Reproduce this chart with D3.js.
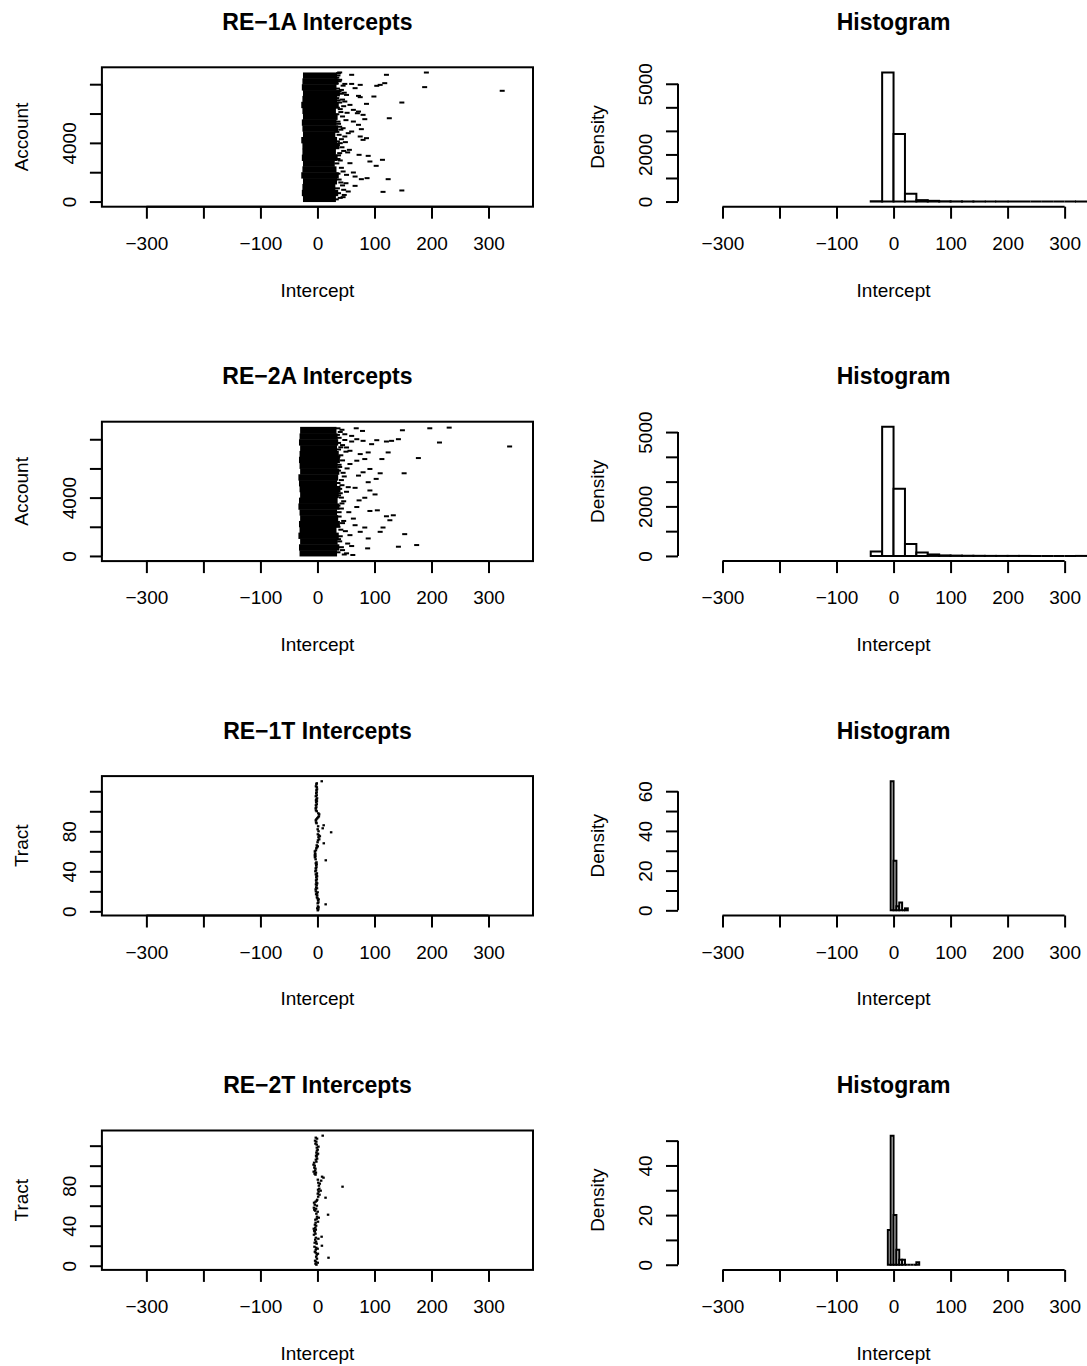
<!DOCTYPE html>
<html>
<head>
<meta charset="utf-8">
<script src="https://cdn.jsdelivr.net/npm/d3@7"></script>
<style>
  body { margin: 0; background: #fff; }
  text { font-family: "Liberation Sans", Arial, Helvetica, sans-serif; font-size: 19px; fill: #000; }
  .main { font-size: 23px; font-weight: bold; }
</style>
</head>
<body>
<div id="chart"></div>
<script>
// ---------------- data ----------------
const panelTitles = ["RE−1A Intercepts", "RE−2A Intercepts", "RE−1T Intercepts", "RE−2T Intercepts"];
const scatterYTitles = ["Account", "Account", "Tract", "Tract"];
const xLimits = [-350, 350];
const xTickValues = [-300, -200, -100, 0, 100, 200, 300];
const xTickLabels = ["−300", "", "−100", "0", "100", "200", "300"];

// scatter y ticks
const accountTicks = [0, 2000, 4000, 6000, 8000];
const accountTickLabels = ["0", "", "4000", "", ""];
const tractTicks = [0, 20, 40, 60, 80, 100, 120];
const tractTickLabels = ["0", "", "40", "", "80", "", ""];

// RE-1A: dense core per band of accounts (left / right edge of the black mass)
const re1aCount = 8800;
const re1aBandEdges = [0, 400, 800, 1200, 1600, 2000, 2400, 2800, 3200, 3600, 4000, 4400, 4800, 5200, 5600, 6000, 6400, 6800, 7200, 7600, 8000, 8400, 8800];
const re1aBandLeft = [-21, -23, -22, -21, -24, -22, -21, -23, -22, -22, -24, -21, -22, -23, -21, -22, -24, -22, -21, -23, -22, -21];
const re1aBandRight = [28, 32, 27, 30, 33, 29, 26, 31, 28, 34, 30, 27, 32, 29, 31, 28, 33, 30, 35, 29, 32, 30];
// RE-1A: scattered intercepts outside the core [intercept, account]
const re1aOutliers = [
  [37, 8750], [60, 8640], [121, 8640], [191, 8795], [188, 7800], [324, 7550], [148, 6750], [126, 5680],
  [99, 7160], [86, 6660], [118, 8070], [110, 7955], [104, 7890], [75, 7955], [66, 7730], [60, 8020],
  [48, 8020], [42, 7610], [51, 7270], [72, 7205], [70, 6020], [80, 5910], [83, 5615], [63, 5455],
  [72, 5230], [60, 4775], [75, 4435], [80, 4205], [86, 4320], [77, 4935], [56, 3525], [73, 3185],
  [89, 3115], [92, 2730], [114, 2845], [103, 2435], [63, 1980], [66, 1705], [77, 1525], [87, 1595],
  [124, 1525], [66, 1070], [115, 660], [148, 755], [45, 300], [54, 685], [37, 570], [51, 1820],
  [57, 2615], [40, 3980], [48, 4435], [54, 4660], [63, 6250], [72, 6135], [57, 6590], [48, 6820],
  [75, 7115], [38, 8200], [42, 7350], [36, 6900], [40, 6300], [44, 5800], [37, 5300], [41, 4900],
  [35, 4100], [43, 3700], [39, 3300], [36, 2900], [42, 2300], [38, 1500], [44, 1100], [40, 250], [36, 8600],
  [34, 8450], [39, 8300], [33, 8050], [45, 7900], [35, 7700], [38, 7500], [47, 7420], [34, 7050],
  [39, 6750], [46, 6500], [35, 6400], [41, 6100], [34, 5950], [50, 5550], [36, 5450], [39, 5100],
  [45, 5000], [34, 4750], [38, 4550], [42, 4250], [35, 3850], [46, 3450], [37, 3150], [40, 2800],
  [34, 2600], [45, 2050], [36, 1900], [41, 1300], [35, 900], [47, 450], [33, 150], [39, 8800],
  [44, 6950], [52, 6050], [49, 4050], [53, 3350], [50, 1250], [46, 800]
];

// RE-2A
const re2aCount = 8850;
const re2aBandEdges = [0, 400, 800, 1200, 1600, 2000, 2400, 2800, 3200, 3600, 4000, 4400, 4800, 5200, 5600, 6000, 6400, 6800, 7200, 7600, 8000, 8400, 8850];
const re2aBandLeft = [-27, -28, -26, -29, -27, -28, -26, -27, -29, -28, -26, -27, -28, -29, -26, -27, -28, -27, -26, -28, -27, -26];
const re2aBandRight = [30, 34, 31, 33, 29, 35, 32, 30, 34, 31, 33, 36, 30, 32, 34, 31, 35, 33, 30, 32, 31, 29];
const re2aOutliers = [
  [68, 8753], [79, 8571], [149, 8617], [197, 8753], [231, 8798], [214, 7777], [337, 7505], [177, 6711],
  [152, 5668], [124, 7097], [113, 6643], [142, 8004], [130, 7891], [121, 7845], [104, 7936], [95, 7664],
  [80, 7891], [69, 8004], [60, 7845], [89, 7097], [75, 6984], [83, 6643], [92, 5963], [110, 5668],
  [103, 5283], [89, 5056], [80, 5736], [72, 5509], [92, 4489], [101, 4217], [83, 3990], [73, 3809],
  [105, 3128], [121, 2720], [133, 2788], [127, 2448], [92, 3083], [69, 3355], [83, 1949], [115, 1949],
  [75, 1654], [110, 1654], [89, 1200], [153, 1495], [142, 633], [174, 747], [88, 520], [60, 679],
  [62, 66], [51, 179], [66, 2108], [57, 1427], [63, 2561], [54, 4716], [66, 4670], [57, 6303],
  [69, 6530], [51, 7437], [57, 7210], [48, 8344], [60, 8231], [40, 8500], [38, 8100], [44, 7600],
  [41, 6900], [39, 6100], [45, 5700], [42, 5200], [40, 4300], [43, 3600], [38, 3000], [46, 2400],
  [41, 1800], [39, 1000], [44, 400], [37, 7300], [42, 4000],
  [36, 8750], [43, 8650], [35, 8300], [48, 7950], [37, 7750], [41, 7450], [50, 7150], [36, 6800],
  [44, 6550], [38, 6250], [52, 6000], [37, 5850], [47, 5450], [36, 5000], [43, 4850], [39, 4600],
  [51, 4400], [37, 4150], [46, 3750], [36, 3450], [42, 3250], [55, 3000], [38, 2700], [44, 2250],
  [36, 2000], [49, 1700], [40, 1350], [37, 1150], [53, 850], [42, 600], [36, 250], [47, 100]
];

// RE-1T / RE-2T: tract ids present (ids run 1 .. 130, not all used)
const tractIds = [
  1, 2, 3, 4, 5, 7, 8, 9, 11, 12, 13, 14, 16, 17, 18, 19, 20, 22, 23, 24,
  26, 27, 28, 29, 31, 32, 34, 35, 36, 37, 38, 40, 41, 43, 44, 46, 47, 48, 49, 51,
  52, 54, 55, 56, 57, 58, 60, 61, 63, 64, 65, 66, 68, 69, 71, 72, 74, 75, 76, 77,
  79, 80, 82, 83, 85, 86, 88, 89, 91, 92, 93, 94, 95, 97, 98, 100, 101, 103, 104, 106,
  107, 109, 110, 111, 112, 113, 115, 116, 118, 119, 121, 122, 124, 125, 127, 128, 130
];
const tractIdMax = 130;
// intercept by tract id position (1 .. 130)
const re1tByTract = [
  0.6, 1.4, -0.3, 1.9, 0.9, 2.3, 14.4, 0.4, 1.6, -0.6,
  1.1, 2.0, 0.2, -0.9, -1.8, -0.4, -2.3, -1.2, 0.3, -2.7,
  -1.6, -3.1, -0.8, -2.2, -3.5, -1.4, -2.6, -0.5, -1.9, -3.0,
  -2.4, -1.1, -3.3, -2.0, -0.7, -1.5, -2.8, -1.0, -2.1, -3.6,
  -2.5, -1.3, -3.0, -1.8, -0.6, -2.2, -1.4, -2.9, -1.7, -2.4,
  14.6, -3.2, -3.9, -4.4, -3.6, -4.6, -3.8, -4.2, -3.1, -4.5,
  -2.7, -3.4, -1.9, -0.8, 0.5, -1.2, 1.3, 11.1, 0.2, 2.4,
  1.0, 3.1, -0.3, 1.8, 4.2, 2.6, 0.7, 3.5, 24.0, 1.9,
  2.9, 0.4, 9.2, 3.8, 1.2, 10.9, -0.5, -1.6, -2.4, -1.1,
  -2.9, -1.8, -0.4, 1.2, 2.5, 0.8, 3.0, 1.5, -0.2, -1.3,
  -2.6, -1.5, -3.1, -2.0, -0.9, -2.7, -1.2, -3.4, -2.2, -1.0,
  -2.5, -1.6, -0.7, -1.9, -2.8, -1.3, -0.5, -2.1, -1.4, -2.9,
  -1.7, -0.8, -2.3, -1.1, -2.6, -0.6, -1.8, -1.2, -0.9, 7.5
];
const re2tByTract = [
  -1.8, -3.4, 0.5, -2.6, -4.1, 1.2, -0.9, 19.4, -2.2, -3.7,
  -1.1, 0.8, -2.9, -4.5, -1.6, -3.0, 0.3, -2.1, -5.2, 7.8,
  -3.3, -1.4, -4.8, -2.5, -0.6, -3.9, 1.6, -2.8, 7.3, -4.3,
  -6.1, -3.5, -7.0, -4.6, -5.7, -2.9, -6.4, -3.8, -5.1, -2.3,
  -4.4, -1.5, -3.2, 0.9, -2.0, -3.6, -1.2, 2.2, -0.7, -2.6,
  18.6, -1.9, -3.1, 0.4, -4.0, -5.5, -2.4, -6.2, -3.5, -1.0,
  -4.7, -2.2, -5.9, -3.3, -1.3, -0.4, 2.8, 14.2, 1.3, -0.9,
  3.6, 0.6, -1.7, 2.0, 5.6, 1.1, 3.2, 0.2, 44.0, 2.5,
  -0.3, 4.1, 1.5, -1.4, 6.5, 0.7, -2.3, 10.6, 8.1, -0.8,
  -3.4, -5.0, -2.7, -6.6, -4.1, -7.3, -3.6, -5.4, -2.5, -4.8,
  -6.9, -3.0, -5.8, -1.9, -4.3, -2.8, -0.6, -3.9, -1.5, -2.4,
  -0.5, 1.0, -1.8, -3.2, -0.9, 0.4, -2.1, -1.1, 1.7, -2.7,
  -1.3, -3.5, -0.2, -2.0, -4.2, -1.6, -0.7, -2.9, -1.2, 9.2
];

// histograms: bin breaks and counts
const hist1Breaks = [-40, -20, 0, 20, 40, 60, 80, 100, 120, 140, 160, 180, 200, 220, 240, 260, 280, 300, 320, 340];
const hist1Counts = [12, 5480, 2863, 330, 60, 30, 10, 6, 3, 2, 0, 2, 0, 0, 0, 0, 0, 0, 1];
const hist2Breaks = [-40, -20, 0, 20, 40, 60, 80, 100, 120, 140, 160, 180, 200, 220, 240, 260, 280, 300, 320, 340];
const hist2Counts = [175, 5210, 2714, 484, 140, 60, 22, 14, 8, 5, 2, 1, 1, 1, 0, 0, 0, 0, 1];
const hist3Breaks = [-5, 0, 5, 10, 15, 20, 25];
const hist3Counts = [65, 25, 2, 4, 0, 1];
const hist4Breaks = [-10, -5, 0, 5, 10, 15, 20, 25, 30, 35, 40, 45];
const hist4Counts = [14, 52, 20, 6, 2, 2, 0, 0, 0, 0, 1];

const histTicksBig = [0, 1000, 2000, 3000, 4000, 5000];
const histTickLabelsBig = ["0", "", "2000", "", "", "5000"];
const hist3Ticks = [0, 10, 20, 30, 40, 50, 60];
const hist3TickLabels = ["0", "", "20", "", "40", "", "60"];
const hist4Ticks = [0, 10, 20, 30, 40, 50];
const hist4TickLabels = ["0", "", "20", "", "40", ""];

// ---------------- layout ----------------
const W = 1087, H = 1366;
const rowStep = 354.4;
const plotTop = 67.3, plotBottom = 206.7;
const leftX0 = 101.9, leftX1 = 533.0;
const rightX0 = 678.0, rightX1 = 1109.1;

const svg = d3.select("#chart").append("svg")
  .attr("width", W)
  .attr("height", H)
  .style("display", "block")
  .style("background", "#fff");

// R style 4% range extension
function extend(lo, hi) {
  const d = (hi - lo) * 0.04;
  return [lo - d, hi + d];
}

const xDomain = extend(xLimits[0], xLimits[1]);

function drawXAxis(g, x) {
  g.append("g")
    .attr("transform", `translate(0,${plotBottom})`)
    .call(d3.axisBottom(x).tickValues(xTickValues).tickFormat((d, i) => xTickLabels[i]).tickSize(12).tickSizeOuter(0))
    .call(a => a.select(".domain").remove())
    .call(a => a.selectAll("line").attr("stroke-width", 2))
    .call(a => a.selectAll("text").attr("y", 43.3).attr("dy", null));
  // axis line spans first to last tick
  g.append("line")
    .attr("x1", x(xTickValues[0])).attr("x2", x(xTickValues[xTickValues.length - 1]))
    .attr("y1", plotBottom).attr("y2", plotBottom)
    .attr("stroke", "#000").attr("stroke-width", 2);
  g.append("text")
    .attr("x", x(0)).attr("y", 296.5)
    .attr("text-anchor", "middle")
    .text("Intercept");
}

function drawYAxis(g, y, xPos, ticks, labels, title) {
  g.append("g")
    .attr("transform", `translate(${xPos},0)`)
    .call(d3.axisLeft(y).tickValues(ticks).tickFormat((d, i) => labels[i]).tickSize(12).tickSizeOuter(0))
    .call(a => a.select(".domain").remove())
    .call(a => a.selectAll("line").attr("stroke-width", 2))
    .call(a => a.selectAll("text")
      .attr("x", null).attr("dy", null)
      .attr("text-anchor", "middle")
      .attr("transform", "translate(-26.4,0) rotate(-90)"));
  g.append("line")
    .attr("x1", xPos).attr("x2", xPos)
    .attr("y1", y(ticks[0])).attr("y2", y(ticks[ticks.length - 1]))
    .attr("stroke", "#000").attr("stroke-width", 2);
  g.append("text")
    .attr("transform", `translate(${xPos - 74.1},${(plotTop + plotBottom) / 2}) rotate(-90)`)
    .attr("text-anchor", "middle")
    .text(title);
}

function drawTitle(g, xCenter, label) {
  g.append("text")
    .attr("class", "main")
    .attr("x", xCenter).attr("y", 30)
    .attr("text-anchor", "middle")
    .text(label);
}

// ---------------- left column: intercept by account / tract ----------------
function scatterPanel(row, opts) {
  const g = svg.append("g").attr("transform", `translate(0,${row * rowStep})`);
  const x = d3.scaleLinear().domain(xDomain).range([leftX0, leftX1]);
  const y = d3.scaleLinear().domain(extend(1, opts.n)).range([plotBottom, plotTop]);

  if (opts.bandEdges) {
    // the solid black mass of thousands of overlapping dashes
    g.selectAll("rect.core")
      .data(opts.bandLeft)
      .join("rect")
      .attr("class", "core")
      .attr("x", d => x(d) - 2.5)
      .attr("width", (d, i) => x(opts.bandRight[i]) - x(d) + 5)
      .attr("y", (d, i) => y(opts.bandEdges[i + 1]))
      .attr("height", (d, i) => y(opts.bandEdges[i]) - y(opts.bandEdges[i + 1]) + 0.5)
      .attr("fill", "#000");

    g.selectAll("rect.dash")
      .data(opts.outliers)
      .join("rect")
      .attr("class", "dash")
      .attr("x", d => x(d[0]) - 2.5)
      .attr("y", d => y(d[1]) - 1)
      .attr("width", 5)
      .attr("height", 2)
      .attr("fill", "#000");
  } else {
    const pts = tractIds.map(id => [opts.byTract[id - 1], id]);
    g.selectAll("rect.pt")
      .data(pts)
      .join("rect")
      .attr("class", "pt")
      .attr("x", d => x(d[0]) - 1.25)
      .attr("y", d => y(d[1]) - 1.1)
      .attr("width", 2.5)
      .attr("height", 2.2)
      .attr("fill", "#000");
  }

  // frame
  g.append("rect")
    .attr("x", leftX0).attr("y", plotTop)
    .attr("width", leftX1 - leftX0).attr("height", plotBottom - plotTop)
    .attr("fill", "none").attr("stroke", "#000").attr("stroke-width", 2);

  drawXAxis(g, x);
  drawYAxis(g, y, leftX0, opts.ticks, opts.tickLabels, scatterYTitles[row]);
  drawTitle(g, (leftX0 + leftX1) / 2, panelTitles[row]);
}

// ---------------- right column: histograms ----------------
function histPanel(row, breaks, counts, ticks, tickLabels) {
  const g = svg.append("g").attr("transform", `translate(0,${row * rowStep})`);
  const x = d3.scaleLinear().domain(xDomain).range([rightX0, rightX1]);
  const y = d3.scaleLinear().domain(extend(0, d3.max(counts))).range([plotBottom, plotTop]);

  g.selectAll("path.bar")
    .data(counts)
    .join("path")
    .attr("class", "bar")
    .attr("d", (d, i) => `M${x(breaks[i])},${y(0)}V${y(d)}H${x(breaks[i + 1])}V${y(0)}Z`)
    .attr("fill", "#fff")
    .attr("stroke", "#000")
    .attr("stroke-width", 2);

  drawXAxis(g, x);
  drawYAxis(g, y, rightX0, ticks, tickLabels, "Density");
  drawTitle(g, (rightX0 + rightX1) / 2, "Histogram");
}

scatterPanel(0, { n: re1aCount, bandEdges: re1aBandEdges, bandLeft: re1aBandLeft, bandRight: re1aBandRight,
  outliers: re1aOutliers, ticks: accountTicks, tickLabels: accountTickLabels });
scatterPanel(1, { n: re2aCount, bandEdges: re2aBandEdges, bandLeft: re2aBandLeft, bandRight: re2aBandRight,
  outliers: re2aOutliers, ticks: accountTicks, tickLabels: accountTickLabels });
scatterPanel(2, { n: tractIdMax, byTract: re1tByTract, ticks: tractTicks, tickLabels: tractTickLabels });
scatterPanel(3, { n: tractIdMax, byTract: re2tByTract, ticks: tractTicks, tickLabels: tractTickLabels });

histPanel(0, hist1Breaks, hist1Counts, histTicksBig, histTickLabelsBig);
histPanel(1, hist2Breaks, hist2Counts, histTicksBig, histTickLabelsBig);
histPanel(2, hist3Breaks, hist3Counts, hist3Ticks, hist3TickLabels);
histPanel(3, hist4Breaks, hist4Counts, hist4Ticks, hist4TickLabels);
</script>
</body>
</html>
